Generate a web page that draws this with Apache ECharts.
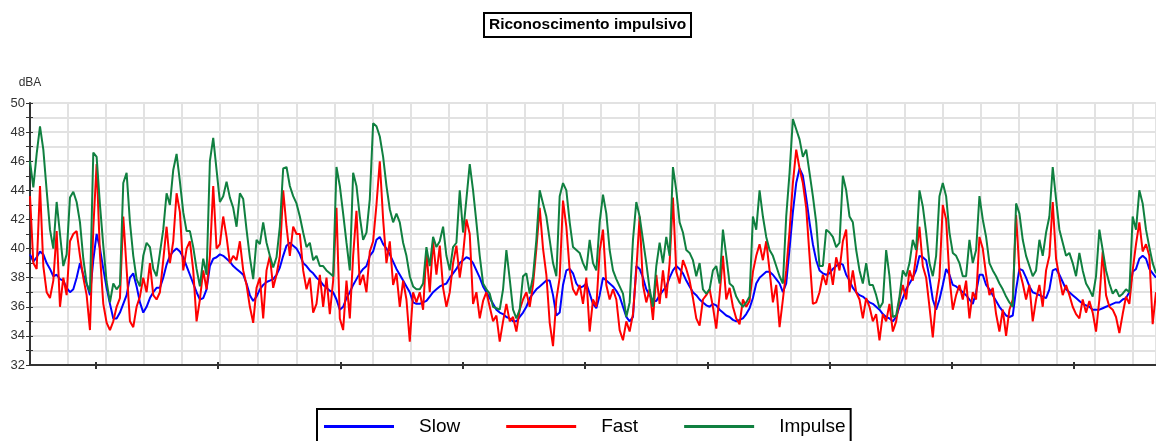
<!DOCTYPE html>
<html>
<head>
<meta charset="utf-8">
<script src="https://cdn.jsdelivr.net/npm/echarts@6/dist/echarts.min.js"></script>
<style>
html,body{margin:0;padding:0;background:#fff;}
#chart{width:1156px;height:441px;}
</style>
</head>
<body>
<div id="chart"></div>
<script>
// Chart texts
const TITLE = 'Riconoscimento impulsivo';
const Y_NAME = 'dBA';
const SERIES_NAMES = ['Slow', 'Fast', 'Impulse'];

// Tick positions on the time axis (in sample index units)
const X_TICKS = [19.8, 56.5, 93.2, 129.9, 166.6, 203.3, 240.0, 276.7, 313.4];

// Slow (dBA), one value per sample
const slow = [
39.6,39.1,39.4,39.8,39.6,39.0,38.6,38.1,38.2,37.9,
37.8,37.3,37.0,37.2,38.0,39.0,38.2,37.6,36.8,39.2,
41.0,40.0,38.6,37.3,36.2,35.2,35.2,35.6,36.2,36.8,
38.0,38.3,37.4,36.3,35.6,36.0,36.6,37.0,37.3,37.3,
38.0,38.9,39.5,39.8,40.0,39.8,39.4,38.8,38.2,37.6,
37.0,36.5,36.6,37.2,38.8,39.3,39.4,39.6,39.5,39.3,
39.1,38.8,38.6,38.4,38.2,37.6,36.8,36.4,36.7,37.2,
37.5,37.7,37.8,37.9,38.2,38.7,39.5,40.2,40.4,40.2,
40.0,39.6,39.0,38.8,38.5,38.3,38.0,37.8,37.5,37.3,
37.1,37.0,36.5,35.8,36.0,36.6,37.0,37.5,37.9,38.3,
38.6,38.8,39.5,39.8,40.6,40.8,40.3,40.0,39.6,39.1,
38.6,38.2,37.8,37.4,37.0,36.3,36.2,36.2,36.3,36.4,
36.7,37.0,37.2,37.4,37.5,37.6,38.0,38.3,38.6,39.0,
39.2,39.4,39.3,39.0,38.5,38.0,37.4,37.0,36.6,36.2,
35.8,35.6,35.5,35.3,35.2,35.0,35.0,35.3,35.6,36.0,
36.6,36.9,37.2,37.4,37.6,37.8,37.8,36.8,35.4,35.6,
37.5,38.5,38.6,38.3,37.6,37.3,37.4,37.6,36.9,36.2,
35.9,36.8,38.0,37.8,37.6,37.4,37.1,36.7,36.0,35.3,
35.0,35.3,38.8,38.6,38.0,37.2,36.8,36.4,36.4,36.8,
37.1,37.4,38.0,38.5,38.8,38.6,38.3,37.8,37.4,37.0,
36.8,36.5,36.3,36.1,36.0,36.2,36.1,35.8,35.6,35.4,
35.3,35.1,35.0,35.1,35.2,35.5,35.9,36.6,37.6,38.0,
38.2,38.4,38.4,38.2,37.9,37.6,37.0,37.6,40.0,42.5,
44.5,45.5,45.0,43.5,41.8,40.3,39.2,38.5,38.3,38.2,
38.3,38.6,38.8,39.0,38.9,38.2,37.8,37.3,37.0,36.8,
36.7,36.5,36.3,36.2,36.0,35.8,35.5,35.3,35.2,35.0,
35.3,36.0,36.6,37.2,37.6,38.0,38.5,39.5,39.4,39.2,
38.0,36.5,35.8,36.5,37.5,38.6,38.2,37.5,37.4,37.2,
37.0,36.8,36.5,36.2,37.0,38.2,38.2,37.5,37.2,36.8,
36.4,36.0,35.7,35.4,35.3,35.4,37.2,38.6,38.5,38.0,
37.4,37.0,36.9,36.8,36.7,36.6,37.2,38.5,38.6,38.2,
37.7,37.2,37.0,36.8,36.6,36.4,36.2,36.1,36.0,35.8,
35.8,35.8,35.9,36.0,36.1,36.2,36.3,36.3,36.5,36.6,
37.0,38.4,38.6,39.3,39.5,39.3,38.6,38.3,38.0
];

// Fast (dBA)
const fast = [
43.6,39.0,38.6,44.3,38.8,37.0,36.6,37.8,41.2,36.0,
38.0,36.8,40.5,41.0,41.2,39.5,38.0,36.8,34.4,41.4,
45.8,39.6,36.2,34.9,34.4,35.0,36.0,36.6,42.2,38.6,
35.0,34.6,36.0,36.7,38.0,37.0,39.0,36.8,36.5,37.0,
39.2,41.5,39.0,40.5,43.8,42.5,38.5,40.0,40.5,38.5,
35.0,36.5,38.5,37.2,39.5,44.3,40.0,40.3,42.2,40.8,
39.0,39.5,39.2,40.5,38.5,37.5,36.0,34.9,37.3,38.0,
35.2,38.5,39.5,37.3,38.2,39.5,44.0,41.5,39.5,41.5,
41.0,41.0,38.5,37.2,38.0,35.6,36.2,38.2,36.0,38.0,
35.5,37.8,42.8,35.2,34.4,37.8,35.2,39.5,42.6,37.5,
38.2,37.0,39.8,40.5,43.0,46.0,42.0,39.0,40.5,37.5,
38.3,36.0,37.8,36.5,33.6,37.0,36.3,37.0,35.8,39.8,
37.0,40.5,38.2,40.2,37.3,36.0,37.0,39.0,40.2,38.0,
39.6,42.0,41.0,36.2,37.0,35.2,36.4,37.0,36.0,35.0,
35.4,33.6,35.0,36.2,35.0,35.3,34.3,35.8,36.5,37.0,
36.0,37.5,40.0,42.8,40.0,38.2,34.9,33.3,36.5,38.0,
43.3,41.5,38.5,37.2,36.8,37.5,36.2,38.0,34.3,36.5,
36.0,39.8,41.3,37.5,36.5,37.2,36.5,34.4,33.7,35.0,
34.3,35.5,38.5,42.2,37.5,36.3,37.2,35.1,38.2,36.2,
38.5,36.6,39.0,43.5,38.4,37.6,39.2,38.6,37.8,36.6,
35.2,34.7,36.5,36.8,37.2,36.0,34.5,36.8,39.5,36.5,
37.3,36.0,35.2,34.8,36.5,36.0,36.4,38.4,39.5,40.3,
39.2,40.5,38.5,36.3,37.5,34.6,36.5,38.5,41.2,44.5,
46.8,45.5,44.5,42.8,39.5,36.2,36.3,37.0,38.2,37.5,
39.0,37.5,39.4,38.5,40.5,41.3,37.0,38.5,37.0,36.5,
35.2,36.6,36.0,35.0,35.5,33.7,35.5,35.0,36.2,34.3,
35.0,36.5,37.5,36.5,38.5,37.8,39.5,41.5,38.8,38.0,
36.0,33.9,36.5,38.0,43.0,42.0,38.0,35.8,36.8,37.5,
36.5,37.8,35.2,37.0,36.5,40.8,40.0,38.2,36.8,37.3,
35.5,34.3,35.8,34.0,35.8,36.5,42.3,38.5,37.6,36.5,
37.5,35.0,36.5,37.5,36.0,38.5,39.5,43.2,39.3,38.0,
36.8,37.5,36.8,36.0,35.5,35.2,36.5,35.6,36.4,35.6,
34.3,36.5,39.8,36.8,36.0,35.8,35.3,34.2,35.5,36.7,
36.2,38.5,40.3,41.8,39.8,40.3,39.5,34.8,37.0
];

// Impulse (dBA)
const impulse = [
46.0,44.2,46.5,48.4,46.8,44.0,41.3,40.0,43.2,41.0,
38.8,39.6,43.5,43.9,43.2,41.8,39.3,37.6,37.0,46.6,
46.3,43.0,40.2,37.7,36.3,37.6,37.2,37.5,44.5,45.2,
41.8,39.5,37.9,37.4,39.5,40.4,40.1,38.6,38.1,39.7,
41.3,43.8,43.0,45.4,46.5,44.6,42.5,41.2,41.2,40.1,
38.6,37.4,39.3,38.2,46.0,47.6,45.4,43.2,43.6,44.6,
43.5,42.8,41.5,43.8,43.4,41.3,39.4,37.9,40.6,40.3,
41.8,40.4,39.5,38.7,39.4,41.5,45.5,45.6,44.3,43.6,
43.1,42.2,41.1,40.1,40.4,39.2,39.5,38.8,38.8,38.5,
38.3,38.1,45.6,44.3,42.4,40.4,38.5,45.2,44.3,42.2,
40.6,41.1,43.4,48.6,48.4,47.7,46.3,44.3,42.7,41.8,
42.4,41.8,40.4,39.5,38.1,37.4,37.2,37.2,37.6,40.1,
38.8,40.8,40.1,40.5,41.5,39.5,38.5,40.1,40.4,44.0,
41.1,43.4,45.8,44.0,41.8,39.5,37.6,37.2,36.9,36.0,
35.9,35.8,37.2,39.9,37.9,35.8,35.2,35.8,38.1,38.3,
36.9,38.1,40.6,44.0,43.1,42.2,40.6,39.0,38.1,43.6,
44.5,44.0,41.8,40.1,39.9,39.7,39.0,38.5,40.6,39.0,
38.5,41.8,43.7,42.4,39.9,38.5,37.9,37.4,36.9,35.3,
36.3,40.6,43.2,42.2,40.6,39.0,37.2,36.0,38.8,40.4,
39.0,40.8,39.5,45.6,44.0,41.8,41.1,39.9,39.7,39.2,
38.1,39.0,37.2,36.9,37.2,38.5,38.8,37.6,41.3,39.5,
37.6,37.4,36.7,36.3,36.0,36.3,36.7,42.2,41.3,44.0,
42.2,40.8,39.9,39.5,38.8,38.1,37.6,42.2,45.2,48.9,
48.2,47.5,46.3,46.8,45.2,43.6,41.8,38.8,38.8,41.3,
41.1,40.8,40.1,40.4,45.0,44.0,42.2,41.8,39.9,38.5,
37.6,39.0,37.5,37.5,36.8,35.9,36.3,39.9,38.1,35.3,
35.4,36.7,38.5,38.1,39.0,40.6,39.9,44.0,42.9,41.1,
39.0,38.1,39.5,43.6,44.5,43.6,41.1,39.7,39.5,39.0,
38.1,38.1,40.6,39.0,39.9,43.6,42.0,40.8,39.0,38.5,
38.1,37.6,37.2,36.7,36.3,36.0,43.1,42.4,40.6,39.5,
38.8,38.1,38.5,40.6,39.5,41.1,42.2,45.6,43.4,41.3,
40.4,39.5,39.7,39.0,38.1,39.7,38.5,37.6,37.2,36.7,
38.1,41.3,39.9,38.5,37.6,36.9,37.2,36.7,36.9,37.2,
37.0,42.2,41.3,44.0,43.1,41.3,40.1,39.0,38.3
];

const COLORS = ['#0000ff', '#ff0000', '#108040'];
const FONT = 'Liberation Sans, Arial, sans-serif';

function toPoints(arr) { return arr.map((v, i) => [i, v]); }

const chart = echarts.init(document.getElementById('chart'), null, {renderer: 'canvas'});
const axisColor = '#333';
const gridColor = '#e2e2e2';
const X_MIN = 0, X_MAX = 338, X_GRID = 11.419;

chart.setOption({
  animation: false,
  backgroundColor: '#ffffff',
  title: {
    text: TITLE,
    left: 484, top: 13,
    padding: [4, 5, 4, 5],
    borderColor: '#000', borderWidth: 2,
    textStyle: {fontSize: 15.5, fontWeight: 'bold', fontFamily: FONT, color: '#000'}
  },
  legend: {
    data: SERIES_NAMES,
    left: 317, top: 409,
    icon: 'rect', itemWidth: 70, itemHeight: 3, itemGap: 46,
    padding: [8, 5, 12, 7],
    borderColor: '#000', borderWidth: 2,
    textStyle: {fontSize: 19, fontFamily: FONT, color: '#000', padding: [0, 0, 0, 20]}
  },
  grid: {left: 30, right: 0, top: 103, bottom: 76, containLabel: false},
  xAxis: [{
    // grid lines (vertical)
    type: 'value', min: X_MIN, max: X_MAX, interval: X_GRID, position: 'bottom',
    axisLine: {show: false}, axisTick: {show: false}, axisLabel: {show: false},
    splitLine: {show: true, lineStyle: {color: gridColor, width: 2}}
  }, {
    // main axis line + outward ticks
    type: 'value', min: X_MIN, max: X_MAX, position: 'bottom',
    axisLine: {show: true, onZero: false, lineStyle: {color: axisColor, width: 2}},
    axisTick: {show: true, customValues: X_TICKS, length: 4, lineStyle: {color: axisColor, width: 2}},
    axisLabel: {show: false},
    splitLine: {show: false}
  }, {
    // inward ticks
    type: 'value', min: X_MIN, max: X_MAX, position: 'bottom',
    axisLine: {show: false},
    axisTick: {show: true, inside: true, customValues: X_TICKS, length: 3, lineStyle: {color: axisColor, width: 2}},
    axisLabel: {show: false},
    splitLine: {show: false}
  }],
  yAxis: [{
    // grid lines (horizontal, every 1 dB)
    type: 'value', min: 32, max: 50, interval: 1, position: 'left',
    axisLine: {show: false}, axisTick: {show: false}, axisLabel: {show: false},
    splitLine: {show: true, lineStyle: {color: gridColor, width: 2}}
  }, {
    type: 'value', min: 32, max: 50, interval: 1, position: 'left',
    name: Y_NAME, nameLocation: 'end', nameGap: 14,
    nameTextStyle: {fontSize: 12, fontFamily: FONT, color: '#333', align: 'center'},
    axisLine: {show: true, onZero: false, lineStyle: {color: axisColor, width: 2}},
    axisTick: {show: true, length: 4, lineStyle: {color: axisColor, width: 1}},
    axisLabel: {fontSize: 13, fontFamily: FONT, color: '#333', margin: 5,
      formatter: v => (v % 2 === 0 ? String(v) : '')},
    splitLine: {show: false}
  }, {
    type: 'value', min: 32, max: 50, interval: 1, position: 'left',
    axisLine: {show: false},
    axisTick: {show: true, inside: true, length: 3, lineStyle: {color: axisColor, width: 1}},
    axisLabel: {show: false},
    splitLine: {show: false}
  }],
  series: [
    {name: SERIES_NAMES[0], type: 'line', xAxisIndex: 0, yAxisIndex: 0, data: toPoints(slow), color: COLORS[0],
     showSymbol: false, symbol: 'none', lineStyle: {width: 2, color: COLORS[0]}},
    {name: SERIES_NAMES[1], type: 'line', xAxisIndex: 0, yAxisIndex: 0, data: toPoints(fast), color: COLORS[1],
     showSymbol: false, symbol: 'none', lineStyle: {width: 2, color: COLORS[1]}},
    {name: SERIES_NAMES[2], type: 'line', xAxisIndex: 0, yAxisIndex: 0, data: toPoints(impulse), color: COLORS[2],
     showSymbol: false, symbol: 'none', lineStyle: {width: 2, color: COLORS[2]}}
  ]
});
</script>
</body>
</html>
